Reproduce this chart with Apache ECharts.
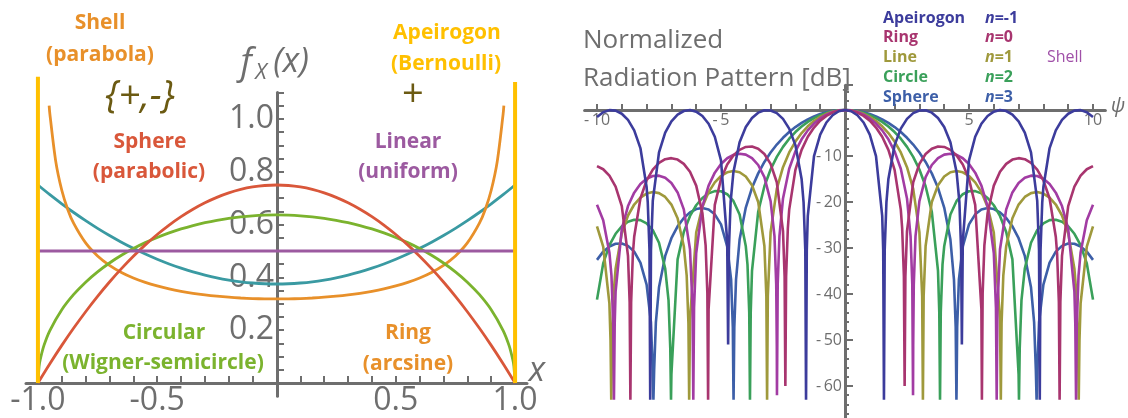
<!DOCTYPE html>
<html><head><meta charset="utf-8">
<script src="https://cdn.jsdelivr.net/npm/echarts@6/dist/echarts.min.js"></script>
<style>html,body{margin:0;padding:0;background:#fff}#c{width:1128px;height:418px}</style>
</head><body><div id="c"></div>
<script>
// ---------- LEFT PANEL DATA: probability densities f_X(x), sampled for x >= 0 (even functions) ----------
const leftX      = [0,.05,.1,.15,.2,.25,.3,.35,.4,.45,.5,.55,.6,.65,.7,.75,.8,.85,.9,.95,1];
const shellPdf   = [.375,.3759,.3788,.3834,.39,.3984,.4088,.4209,.435,.4509,.4688,.4884,.51,.5334,.5588,.5859,.615,.6459,.6788,.7134,.75];
const spherePdf  = [.75,.7481,.7425,.7331,.72,.7031,.6825,.6581,.63,.5981,.5625,.5231,.48,.4331,.3825,.3281,.27,.2081,.1425,.0731,0];
const circleX    = [0,.05,.1,.15,.2,.25,.3,.35,.4,.45,.5,.55,.6,.65,.7,.75,.8,.85,.9,.95,.975,.99,.995,1];
const circlePdf  = [.6366,.6358,.6334,.6294,.6238,.6164,.6073,.5964,.5835,.5685,.5513,.5317,.5093,.4838,.4546,.4211,.382,.3354,.2775,.1988,.1415,.0898,.0636,0];
const ringX      = [0,.05,.1,.15,.2,.25,.3,.35,.4,.45,.5,.55,.6,.65,.7,.75,.8,.85,.875,.9,.925,.95,.953];
const ringPdf    = [.3183,.3187,.3199,.322,.3249,.3288,.3337,.3398,.3473,.3564,.3676,.3811,.3979,.4189,.4457,.4812,.5305,.6043,.6575,.7302,.8377,1.0194,1.051];
const linearX    = [-1, 1];
const linearPdf  = [.5, .5];
const apeirogonX = [-1, 1];
const apeirogonTop = [1.16, 1.14];

const leftXTicks  = [-1,-.9,-.8,-.7,-.6,-.5,-.4,-.3,-.2,-.1,0,.1,.2,.3,.4,.5,.6,.7,.8,.9,1];
const leftXLabels = [-1,-.5,.5,1];
const leftYTicks  = [.05,.1,.15,.2,.25,.3,.35,.4,.45,.5,.55,.6,.65,.7,.75,.8,.85,.9,.95,1,1.05,1.1];
const leftYLabels = [.2,.4,.6,.8,1];

// ---------- RIGHT PANEL DATA: normalized radiation pattern [dB], psi = 0, 0.25, ..., 10 (even) ----------
const PSI_STEP = 0.25;
const apeirogonDb = [0,-0.27,-1.13,-2.71,-5.35,-10.02,-23.0,-14.98,-7.62,-4.04,-1.93,-0.68,-0.09,-0.05,-0.57,-1.72,-3.69,-7.01,-13.52,-28.5,-10.94,-5.81,-2.99,-1.30,-0.35,-0.01,-0.21,-0.98,-2.45,-4.91,-9.20,-19.68,-16.74,-8.27,-4.41,-2.15,-0.81,-0.13,-0.02,-0.47,-1.52];
const ringDb   = [0,-0.14,-0.55,-1.27,-2.32,-3.80,-5.82,-8.66,-13.00,-21.65,-26.31,-15.70,-11.70,-9.56,-8.40,-7.93,-8.02,-8.65,-9.88,-11.86,-15.01,-20.62,-43.29,-22.39,-16.44,-13.43,-11.70,-10.77,-10.46,-10.69,-11.49,-12.95,-15.31,-19.23,-27.55,-31.72,-20.88,-16.63,-14.25,-12.87,-12.18];
const lineDb   = [0,-0.09,-0.37,-0.83,-1.50,-2.39,-3.54,-5.00,-6.85,-9.22,-12.42,-17.15,-26.55,-29.55,-19.98,-16.34,-14.46,-13.53,-13.26,-13.54,-14.34,-15.72,-17.84,-21.06,-26.64,-45.50,-29.61,-23.52,-20.55,-18.90,-18.06,-17.83,-18.16,-19.03,-20.54,-22.93,-26.78,-34.52,-42.04,-29.71,-25.29];
const circleDb = [0,-0.07,-0.27,-0.62,-1.11,-1.76,-2.57,-3.57,-4.78,-6.24,-8.01,-10.18,-12.92,-16.57,-22.10,-34.98,-29.62,-22.72,-19.77,-18.30,-17.65,-17.63,-18.12,-19.13,-20.70,-23.02,-26.50,-32.47,-57.47,-34.47,-28.86,-26.12,-24.63,-23.94,-23.84,-24.29,-25.27,-26.90,-29.38,-33.35,-41.22];
const sphereDb = [0,-0.05,-0.22,-0.49,-0.88,-1.39,-2.02,-2.79,-3.70,-4.77,-6.03,-7.50,-9.23,-11.28,-13.77,-16.92,-21.20,-28.15,-60.42,-29.64,-24.87,-22.67,-21.62,-21.30,-21.53,-22.25,-23.48,-25.29,-27.87,-31.72,-38.55,-58.23,-37.98,-33.18,-30.78,-29.53,-29.01,-29.07,-29.66,-30.79,-32.57];
const shellDb  = [0,-0.11,-0.44,-1.00,-1.83,-2.94,-4.42,-6.36,-8.98,-12.76,-19.22,-51.43,-19.80,-14.59,-11.95,-10.46,-9.70,-9.49,-9.75,-10.48,-11.73,-13.61,-16.43,-20.95,-31.09,-30.28,-21.60,-17.91,-15.86,-14.74,-14.27,-14.34,-14.93,-16.10,-17.96,-20.88,-25.85,-39.49,-30.96,-23.94,-20.60];
// extra samples around the nulls [psi, dB]
const apeirogonNulls = [[1.5408,-30.5],[1.5708,-63],[1.6008,-30.5],[1.6708,-20.0],[4.6124,-20.0],[4.6824,-30.5],[4.7124,-51],[7.824,-30.5],[7.854,-63],[7.884,-30.5],[7.954,-20.0]];
const ringNulls   = [[2.3048,-25.7],[2.3748,-36.2],[2.4048,-60],[2.4348,-36.2],[5.5201,-63],[5.5501,-39.8],[5.6201,-29.4],[8.5537,-31.3],[8.6237,-41.8],[8.6537,-63],[8.6837,-41.8]];
const lineNulls   = [[3.1116,-40.4],[3.1416,-63],[3.1716,-40.4],[6.2832,-63],[6.3132,-46.4],[6.3832,-36.0],[9.3248,-39.5],[9.3948,-50.0],[9.4248,-63],[9.4548,-50.0]];
const circleNulls = [[3.8017,-44.0],[3.8317,-63],[3.8617,-44.0],[3.9317,-33.6],[7.0156,-63],[7.0456,-51.8],[7.1156,-41.4]];
const sphereNulls = [[4.3934,-36.8],[4.4634,-47.2],[4.4934,-63],[4.5234,-47.2],[4.5934,-36.8],[7.6253,-46.1],[7.6953,-56.5],[7.7253,-63],[7.7553,-56.5],[7.8253,-46.1]];
const shellNulls  = [[2.6434,-27.4],[2.7134,-37.9],[2.7434,-62],[2.7734,-37.9],[2.8434,-27.4],[6.0868,-43.0],[6.1168,-63],[6.1468,-43.0],[9.2866,-46.5],[9.3166,-63],[9.3466,-46.5],[9.4166,-36.0]];

const rightXTicks  = [-10,-9,-8,-7,-6,-5,-4,-3,-2,-1,0,1,2,3,4,5,6,7,8,9,10];
const rightXLabels = [-10,-5,5,10];

const legendNames = ['Apeirogon','Ring','Line','Circle','Sphere'];
const legendN     = ['-1','0','1','2','3'];

// ---------- build ----------
function mirror(pts){
  const neg = pts.filter(p => p[0] > 0).map(p => [-p[0], p[1]]).reverse();
  return neg.concat(pts);
}
function pdf(xs, ys){ return mirror(xs.map((x,i) => [x, ys[i]])); }
function pattern(db, nulls){
  const pts = db.map((v,i) => [i*PSI_STEP, v]).concat(nulls);
  pts.sort((a,b) => a[0]-b[0]);
  return mirror(pts);
}

const GRAY = '#6e6e6e';
const FONT = '"Open Sans", "DejaVu Sans", sans-serif';
const C = {
  yellow:'#ffc000', orange:'#e8902a', teal:'#3a9aa2', red:'#d9573a', green:'#7bb32e', purple:'#9c5aa0', olive:'#6b5a12',
  apeirogon:'#3c3c9c', ring:'#a8356f', line:'#9f993c', circle:'#3aa05a', sphere:'#3d5fa8', shell:'#a23ca3'
};
const legendColors = [C.apeirogon, C.ring, C.line, C.circle, C.sphere];

function T(text, x, y, size, color, o){
  o = o || {};
  return { type:'text', x:x, y:y, z:100, silent:true,
    style:{ text:text, fill:color, fontSize:size, fontFamily:o.family || FONT,
      fontWeight:o.weight || 'normal', fontStyle:o.style || 'normal',
      align:o.align || 'center', verticalAlign:'middle' } };
}

const graphics = [
  T('Shell', 100, 23, 21, C.orange, {weight:'bold'}),
  T('(parabola)', 100, 55, 21, C.orange, {weight:'bold'}),
  T('{+,-}', 140, 97, 38, C.olive, {style:'italic'}),
  T('Sphere', 150, 142, 21, C.red, {weight:'bold'}),
  T('(parabolic)', 149, 172, 21, C.red, {weight:'bold'}),
  T('Apeirogon', 447, 33, 21, C.yellow, {weight:'bold'}),
  T('(Bernoulli)', 446, 64, 21, C.yellow, {weight:'bold'}),
  T('+', 412, 95, 38, C.olive, {style:'italic'}),
  T('Linear', 408, 142, 21, C.purple, {weight:'bold'}),
  T('(uniform)', 408, 172, 21, C.purple, {weight:'bold'}),
  T('Circular', 164, 333, 21, C.green, {weight:'bold'}),
  T('(Wigner-semicircle)', 163, 363, 21, C.green, {weight:'bold'}),
  T('Ring', 408, 333, 21, C.orange, {weight:'bold'}),
  T('(arcsine)', 408, 364, 21, C.orange, {weight:'bold'}),
  T('f', 246, 64, 36, GRAY, {style:'italic'}),
  T('X', 261, 73, 22, GRAY, {style:'italic'}),
  T('(x)', 291, 62, 34, GRAY, {style:'italic'}),
  T('x', 537, 371, 34, GRAY, {style:'italic'}),
  T('Normalized', 583, 41, 26, GRAY, {align:'left'}),
  T('Radiation Pattern [dB]', 583, 79, 26, GRAY, {align:'left'}),
  T('Shell', 1047, 57, 16, '#a050a8', {align:'left'}),
  T('\u03c8', 1118, 106, 20, GRAY, {style:'italic'})
];
legendNames.forEach((n,i) => {
  graphics.push(T(n, 883, 18 + i*19.8, 16, legendColors[i], {weight:'bold', align:'left'}));
  graphics.push({ type:'text', x:985, y:18 + i*19.8, z:100, silent:true,
    style:{ text:'{a|n}{b|=' + legendN[i] + '}', fill:legendColors[i], align:'left', verticalAlign:'middle',
      rich:{ a:{fontSize:16, fontFamily:FONT, fontWeight:'bold', fontStyle:'italic', fill:legendColors[i]},
             b:{fontSize:16, fontFamily:FONT, fontWeight:'bold', fill:legendColors[i]} } } });
});

const axisLine = { onZero:false, lineStyle:{ color:GRAY, width:3 } };
const tickStyle = { color:GRAY, width:2 };

// grid geometry (pixels)
const G0 = { left:26, top:92.6, width:501, height:303.6 };
const G1 = { left:584.6, top:85.2, width:520.8, height:346.8 };

const option = {
  animation:false,
  backgroundColor:'#fff',
  grid:[
    Object.assign({ containLabel:false, outerBoundsMode:'none' }, G0),
    Object.assign({ containLabel:false, outerBoundsMode:'none' }, G1)
  ],
  xAxis:[
    { gridIndex:0, type:'value', min:-1.05, max:1.05, position:'bottom', offset:-13.2, axisLine:axisLine, splitLine:{show:false},
      axisTick:{ show:true, inside:true, length:7, lineStyle:tickStyle, customValues:leftXTicks },
      axisLabel:{ customValues:leftXLabels, formatter:v => v.toFixed(1), fontSize:32, color:GRAY, fontFamily:FONT, margin:2 } },
    { gridIndex:1, type:'value', min:-10.5, max:10.5, position:'bottom', offset:-322, axisLine:axisLine, splitLine:{show:false},
      axisTick:{ show:true, inside:true, length:6, lineStyle:tickStyle, customValues:rightXTicks },
      axisLabel:{ customValues:rightXLabels, formatter:v => (v < 0 ? '-\u2009' + (-v) : '' + v), fontSize:16, color:GRAY, fontFamily:FONT, margin:2 } }
  ],
  yAxis:[
    { gridIndex:0, type:'value', min:-0.05, max:1.1, position:'left', offset:-251, axisLine:axisLine, splitLine:{show:false},
      axisTick:{ show:true, inside:true, length:7, lineStyle:tickStyle, customValues:leftYTicks },
      axisLabel:{ customValues:leftYLabels, formatter:v => v.toFixed(1), fontSize:32, color:GRAY, fontFamily:FONT, margin:3 } },
    { gridIndex:1, type:'value', min:-70, max:5.4, interval:10, position:'left', offset:-260.4, axisLine:axisLine, splitLine:{show:false},
      axisTick:{ show:true, inside:true, length:8, lineStyle:tickStyle },
      minorTick:{ show:true, splitNumber:5, length:4, lineStyle:tickStyle },
      axisLabel:{ formatter:v => (v === 0 || v <= -70 ? '' : '-\u2009' + (-v)), fontSize:16, color:GRAY, fontFamily:FONT, margin:3, showMaxLabel:false } }
  ],
  graphic: graphics,
  series:[]
};

function L(data, color, xi, w, extra){
  return Object.assign({ type:'line', xAxisIndex:xi, yAxisIndex:xi, data:data, showSymbol:false, symbol:'none',
    lineStyle:{ color:color, width:w }, itemStyle:{color:color}, silent:true, clip:true }, extra || {});
}

option.series.push(
  L(pdf(leftX, shellPdf), C.teal, 0, 2.8, {smooth:0.3}),
  L(pdf(ringX, ringPdf), C.orange, 0, 2.8, {smooth:0.3}),
  L(pdf(circleX, circlePdf), C.green, 0, 2.8, {smooth:0.2}),
  L(pdf(leftX, spherePdf), C.red, 0, 2.8, {smooth:0.3}),
  L(linearX.map((x,i) => [x, linearPdf[i]]), C.purple, 0, 2.8),
  L([[apeirogonX[0],0],[apeirogonX[0],apeirogonTop[0]],[null,null],[apeirogonX[1],0],[apeirogonX[1],apeirogonTop[1]]], C.yellow, 0, 4, {clip:false, connectNulls:false}),
  L(pattern(sphereDb, sphereNulls), C.sphere, 1, 2.6),
  L(pattern(circleDb, circleNulls), C.circle, 1, 2.6),
  L(pattern(lineDb, lineNulls), C.line, 1, 2.6),
  L(pattern(shellDb, shellNulls), C.shell, 1, 2.6),
  L(pattern(ringDb, ringNulls), C.ring, 1, 2.6),
  L(pattern(apeirogonDb, apeirogonNulls), C.apeirogon, 1, 2.6)
);

const chart = echarts.init(document.getElementById('c'), null, {renderer:'canvas'});
chart.setOption(option);
</script></body></html>
